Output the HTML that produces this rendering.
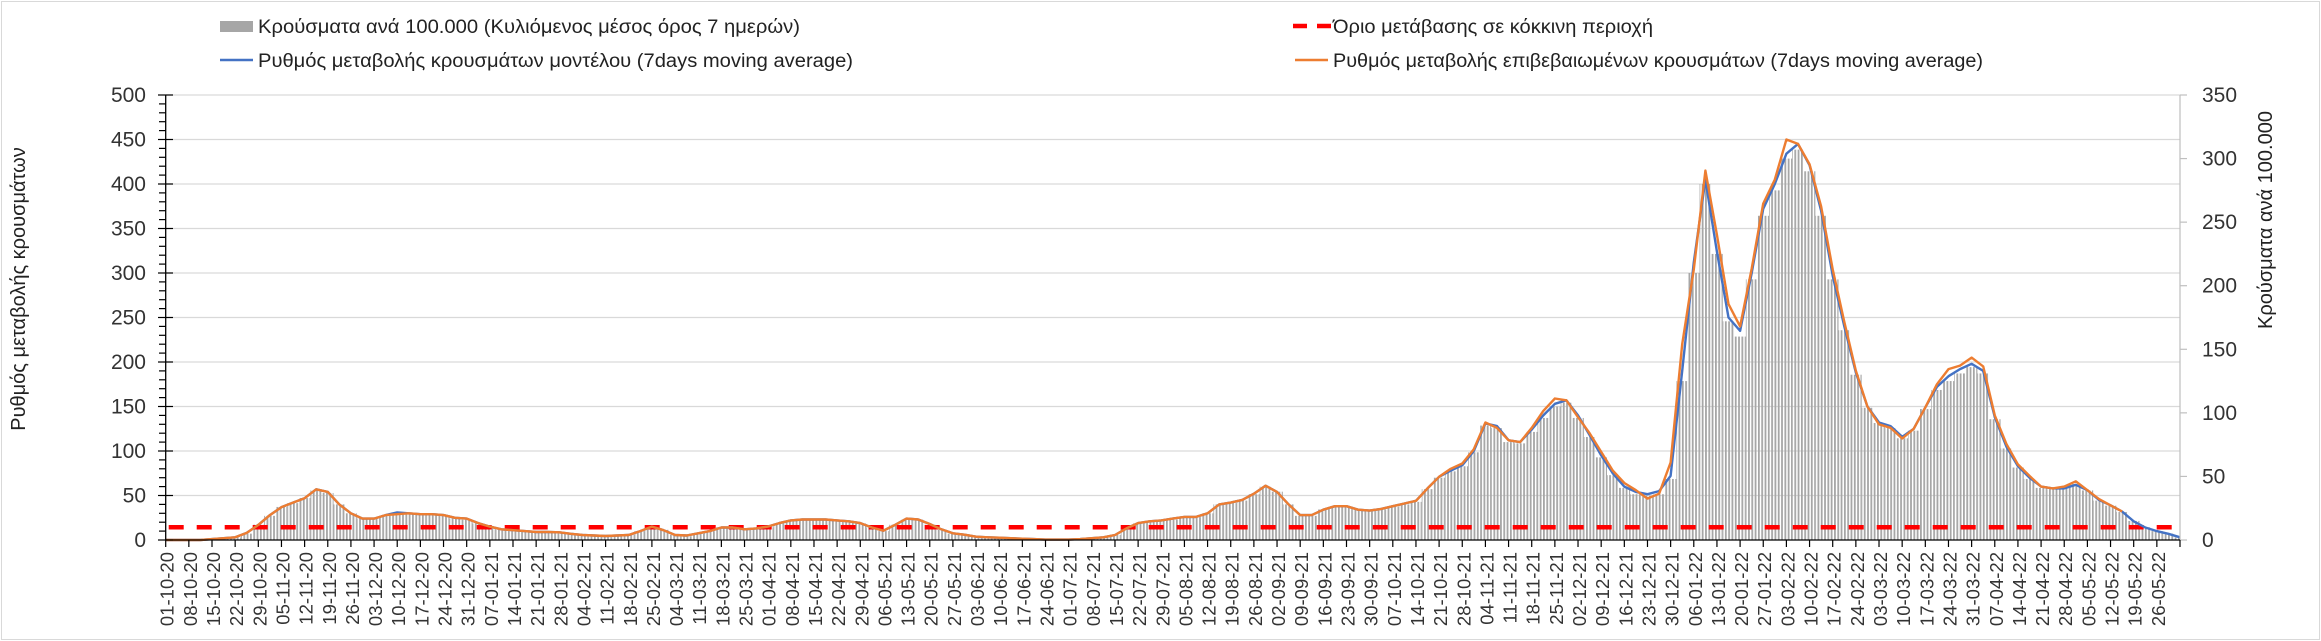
<!DOCTYPE html>
<html><head><meta charset="utf-8">
<style>
html,body{margin:0;padding:0;background:#fff;}
svg{display:block;font-family:"Liberation Sans",sans-serif;}
</style></head>
<body>
<svg id="chart" width="2321" height="641" xmlns="http://www.w3.org/2000/svg">
<defs>
<pattern id="hatch" patternUnits="userSpaceOnUse" width="3.307" height="10" x="164">
<rect x="0" y="0" width="1.8" height="10" fill="#a6a6a6"/>
</pattern>
</defs>
<rect x="1.5" y="1.5" width="2318" height="638" fill="#fff" stroke="#d9d9d9"/>
<g id="grid"></g>
<g id="bars"></g>
<g id="lines"></g>
<g id="axes"></g>
<g id="legend">
<rect x="220" y="21" width="33" height="11" fill="#a6a6a6"/>
<text x="258" y="33" font-size="19" fill="#222" textLength="542" lengthAdjust="spacingAndGlyphs">Κρούσματα ανά 100.000 (Κυλιόμενος μέσος όρος 7 ημερών)</text>
<line x1="220" y1="60" x2="253" y2="60" stroke="#4472c4" stroke-width="2.5"/>
<text x="258" y="67" font-size="19" fill="#222" textLength="595" lengthAdjust="spacingAndGlyphs">Ρυθμός μεταβολής κρουσμάτων μοντέλου (7days moving average)</text>
<line x1="1293" y1="26" x2="1331" y2="26" stroke="#ff0000" stroke-width="4.5" stroke-dasharray="14,10"/>
<text x="1333" y="33" font-size="19" fill="#222" textLength="320" lengthAdjust="spacingAndGlyphs">Όριο μετάβασης σε κόκκινη περιοχή</text>
<line x1="1295" y1="60" x2="1328" y2="60" stroke="#ed7d31" stroke-width="2.5"/>
<text x="1333" y="67" font-size="19" fill="#222" textLength="650" lengthAdjust="spacingAndGlyphs">Ρυθμός μεταβολής επιβεβαιωμένων κρουσμάτων (7days moving average)</text>
</g>
<text transform="translate(25,289) rotate(-90)" text-anchor="middle" font-size="20" fill="#222">Ρυθμός μεταβολής κρουσμάτων</text>
<text transform="translate(2272,220) rotate(-90)" text-anchor="middle" font-size="20" fill="#222">Κρούσματα ανά 100.000</text>
</svg>
<script>
// half-week resolution (every 3.5 days starting 01-10-20)
const modelRate = [0,0,0,0,1,2,3,8,17,28,
37,42,47,57,54,40,30,24,24,28,
31,30,29,29,28,25,24,19,15,12,
11,10,9,9,8.6,7,5.6,5,4.5,5,
5.6,10,15,11,5.6,5,7.5,10,14,14,
12,13,15,19,22,23,23,23,22,21,
19,14,10.5,17,24,23,18,12,7.5,6,
3.7,3,2.6,2,1.5,1,0.4,0.4,0.5,1,
2,3,5.6,13,19,21,22,24,26,26,
30,40,42,45,52,61,54,40,28,28,
34,38,38,34,33,35,38,41,44,58,
71,78,84,100,131,128,112,110,124,140,
153,157,140,118,95,75,60,54,51.5,55,
72,190,312,405,324,250,235,300,372,400,
434,445,421,370,297,240,188,150,132,128,
116,125,149,172,184,192,198,190,138,105,
83,70,60,58,58,62,56,45,39,32,
21,14,10,7,3];
const confirmedRate = [0,0,0,0,1,2,3,8,17,28,
37,42,47,57,54,40,30,24,24,28,
29,30,29,29,28,25,24,19,15,12,
11,10,9,9,8.6,7,5.6,5,4.5,5,
5.6,10,15,11,5.6,5,7.5,10,14,14,
12,13,15,19,22,23,23,23,22,21,
19,14,10.5,17,24,23,18,12,7.5,6,
3.7,3,2.6,2,1.5,1,0.4,0.4,0.5,1,
2,3,5.6,13,19,21,22,24,26,26,
30,40,42,45,52,61,54,40,28,28,
34,38,38,34,33,35,38,41,44,58,
71,80,86,102,132,126,112,110,126,145,
159,157,138,120,99,78,64,56,46.5,52,
87,220,304,415,343,265,240,305,378,405,
450,445,422,375,304,245,190,150,130,126,
114,125,149,175,192,196,205,195,140,108,
85,72,60,58,60,66,56,46,39,32,
null,null,null,null,null];
const casesPer100k = [0,0,0,0,1,1,2,5,12,19,
26,29,33,39,37,28,21,17,17,19,
21,21,20,20,19,17,16,13,10,8,
7,7,6,6,6,5,4,3,3,3,
4,7,10,8,4,3,5,7,10,10,
8,9,10,13,15,16,16,16,15,14,
13,10,7,12,16,16,12,8,5,4,
3,2,2,1,1,1,0,0,0,1,
1,2,4,9,13,14,15,16,18,18,
21,28,29,31,36,42,38,28,19,19,
24,26,26,24,23,24,26,28,30,40,
49,54,58,69,90,88,77,76,85,96,
105,108,96,81,65,51,41,36,35,36,
48,125,210,280,225,172,160,205,255,275,
300,307,290,255,205,165,130,104,92,88,
80,86,103,118,125,131,136,131,95,72,
57,48,41,40,41,44,39,31,27,22,
15,10,7,5,2];
const thresholdValue = 10;
const weekLabels = ["01-10-20","08-10-20","15-10-20","22-10-20","29-10-20","05-11-20","12-11-20","19-11-20","26-11-20","03-12-20","10-12-20","17-12-20","24-12-20","31-12-20","07-01-21","14-01-21","21-01-21","28-01-21","04-02-21","11-02-21","18-02-21","25-02-21","04-03-21","11-03-21","18-03-21","25-03-21","01-04-21","08-04-21","15-04-21","22-04-21","29-04-21","06-05-21","13-05-21","20-05-21","27-05-21","03-06-21","10-06-21","17-06-21","24-06-21","01-07-21","08-07-21","15-07-21","22-07-21","29-07-21","05-08-21","12-08-21","19-08-21","26-08-21","02-09-21","09-09-21","16-09-21","23-09-21","30-09-21","07-10-21","14-10-21","21-10-21","28-10-21","04-11-21","11-11-21","18-11-21","25-11-21","02-12-21","09-12-21","16-12-21","23-12-21","30-12-21","06-01-22","13-01-22","20-01-22","27-01-22","03-02-22","10-02-22","17-02-22","24-02-22","03-03-22","10-03-22","17-03-22","24-03-22","31-03-22","07-04-22","14-04-22","21-04-22","28-04-22","05-05-22","12-05-22","19-05-22","26-05-22"];
const leftTicks = [0,50,100,150,200,250,300,350,400,450,500];
const rightTicks = [0,50,100,150,200,250,300,350];

const NS="http://www.w3.org/2000/svg";
const X0=165.7, X1=2180, Y0=540, YT=95, TOTAL_DAYS=609;
const xDay = d => X0 + d*(X1-X0)/TOTAL_DAYS;
const yL = v => Y0 - v*(Y0-YT)/500;
const yR = v => Y0 - v*(Y0-YT)/350;
function mk(tag, attrs, parent){const e=document.createElementNS(NS,tag);for(const k in attrs)e.setAttribute(k,attrs[k]);parent.appendChild(e);return e;}
const grid=document.getElementById('grid'), bars=document.getElementById('bars'), lines=document.getElementById('lines'), axes=document.getElementById('axes');

leftTicks.forEach(v=>{ if(v===0) return;
  const g=mk('line',{x1:X0,x2:X1,y1:yL(v),y2:yL(v),stroke:'#d9d9d9','stroke-width':1.3},grid);
  
  
});

casesPer100k.forEach((v,i)=>{
  const d=i*3.5; let a=Math.max(0,d-1.75), b=Math.min(TOTAL_DAYS,d+1.75);
  const r=mk('rect',{x:xDay(a),y:yR(v),width:xDay(b)-xDay(a),height:Math.max(0,Y0-yR(v)),fill:'url(#hatch)'},bars);
  
  
});

const thr=mk('line',{x1:X0+3,x2:X1,y1:yR(thresholdValue),y2:yR(thresholdValue),stroke:'#ff0000','stroke-width':4.5,'stroke-dasharray':'15,13'},lines);



function path(arr,color,name){
  let d='',started=false;
  arr.forEach((v,i)=>{ if(v===null) return; d+=(started?'L':'M')+xDay(i*3.5).toFixed(1)+','+yL(v).toFixed(1); started=true;});
  const p=mk('path',{d:d,fill:'none',stroke:color,'stroke-width':2.4,'stroke-linejoin':'round'},lines);
  
  
}
path(modelRate,'#4472c4','model-rate-line');
path(confirmedRate,'#ed7d31','confirmed-rate-line');

// left axis
const la=mk('line',{x1:X0,x2:X0,y1:YT,y2:Y0,stroke:'#000','stroke-width':1.3},axes);


for(let v=0;v<=500;v+=10){
  const major=v%50===0;
  mk('line',{x1:major?158:159,x2:major?173:X0,y1:yL(v),y2:yL(v),stroke:'#000','stroke-width':1.2},axes);
}
leftTicks.forEach(v=>{
  const t=mk('text',{x:146,y:yL(v)+7,'text-anchor':'end','font-size':21,fill:'#333'},axes);
  t.textContent=v;
  
  
});
// right axis
const ra=mk('line',{x1:X1,x2:X1,y1:YT,y2:Y0,stroke:'#bfbfbf','stroke-width':1.2},axes);


rightTicks.forEach(v=>{
  mk('line',{x1:X1,x2:X1+7,y1:yR(v),y2:yR(v),stroke:'#bfbfbf','stroke-width':1.2},axes);
  const t=mk('text',{x:2202,y:yR(v)+7,'font-size':21,fill:'#333'},axes);
  t.textContent=v;
  
  
});
// x axis
const xa=mk('line',{x1:X0,x2:X1,y1:Y0,y2:Y0,stroke:'#000','stroke-width':1.3},axes);


for(let w=0; w<=weekLabels.length; w++){
  mk('line',{x1:xDay(w*7),x2:xDay(w*7),y1:Y0,y2:Y0+7,stroke:'#000','stroke-width':1.2},axes);
}
weekLabels.forEach((lab,w)=>{
  const x=xDay(w*7)+8;
  const t=mk('text',{transform:`translate(${x.toFixed(1)},552) rotate(-90)`,'text-anchor':'end','font-size':18.5,fill:'#333'},axes);
  t.textContent=lab;
  
  
});
</script>
</body></html>
